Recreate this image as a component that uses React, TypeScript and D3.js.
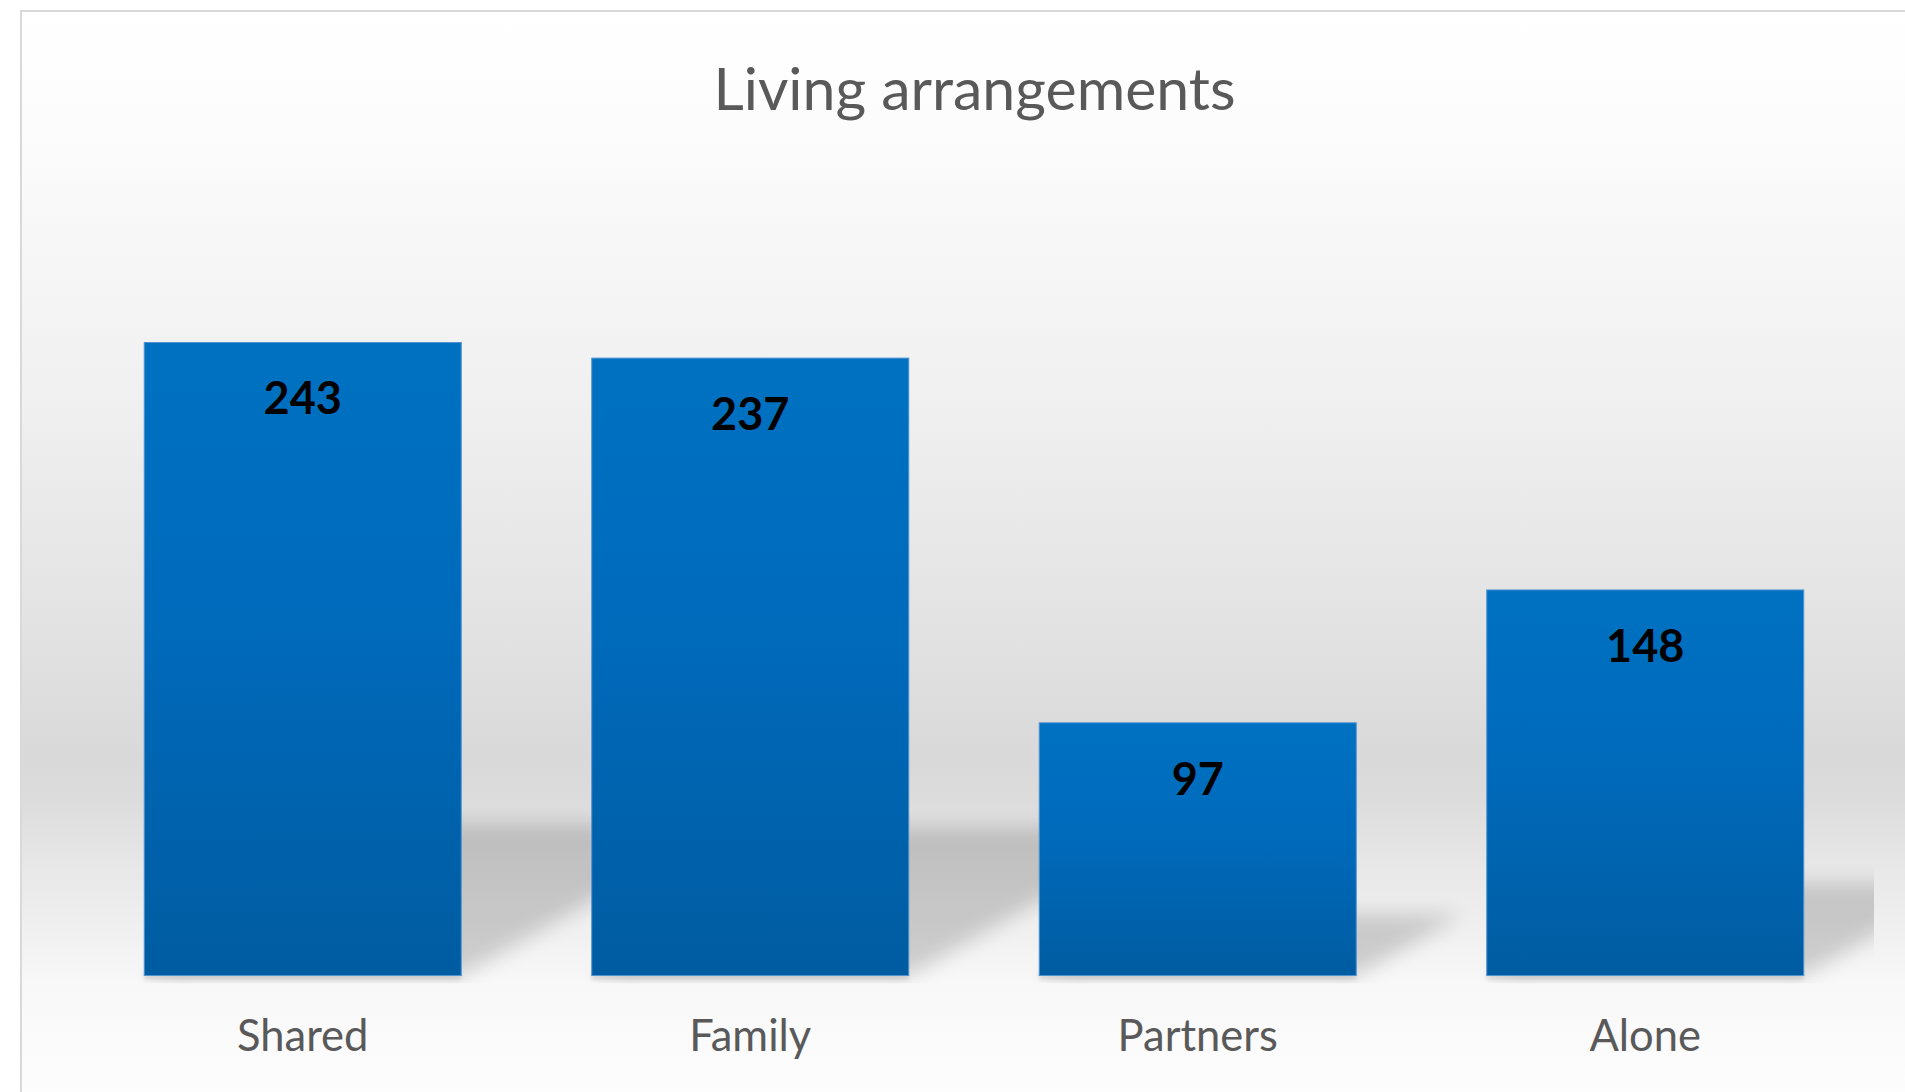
import React from "react";
import * as d3 from "d3";

const categories = ["Shared", "Family", "Partners", "Alone"];
const values = [243, 237, 97, 148];
const title = "Living arrangements";
const yDomainMax = 300;

const W = 1905;
const H = 1092;
const FONT = "Lato, 'Open Sans', sans-serif";

export default function App() {
  const baseY = 975.5;
  const x = d3
    .scaleBand<string>()
    .domain(categories)
    .range([79, 1869])
    .paddingInner(0.2916)
    .paddingOuter(0.1458);
  const y = d3.scaleLinear().domain([0, yDomainMax]).range([baseY, 194]);

  const s = 0.24; // shadow vertical scale
  const k = 0.42; // shadow skew

  const bgStops: [number, string][] = [
    [11, "#ffffff"],
    [130, "#fcfcfc"],
    [400, "#f0f0f0"],
    [620, "#e3e3e3"],
    [755, "#d9d9d9"],
    [800, "#dcdcdc"],
    [870, "#e8e8e8"],
    [940, "#f1f1f1"],
    [985, "#f8f8f8"],
    [1092, "#fdfdfd"],
  ];

  return (
    <svg
      width={W}
      height={H}
      style={{ position: "absolute", left: 0, top: 0, display: "block" }}
    >
      <defs>
        <linearGradient id="bg" gradientUnits="userSpaceOnUse" x1="0" y1="11" x2="0" y2="1092">
          {bgStops.map(([yy, c], i) => (
            <stop key={i} offset={(yy - 11) / (1092 - 11)} stopColor={c} />
          ))}
        </linearGradient>
        <linearGradient id="barGrad" x1="0" y1="0" x2="0" y2="1">
          <stop offset="0" stopColor="#0071c1" />
          <stop offset="0.45" stopColor="#006abb" />
          <stop offset="1" stopColor="#005ca1" />
        </linearGradient>
        <filter id="blur" x="-50%" y="-50%" width="200%" height="200%">
          <feGaussianBlur stdDeviation="10" />
        </filter>
        <filter id="blurSmall" x="-10%" y="-100%" width="120%" height="300%">
          <feGaussianBlur stdDeviation="2" />
        </filter>
        <clipPath id="plotClip">
          <rect x={79} y={150} width={1874 - 79} height={baseY + 8 - 150} />
        </clipPath>
      </defs>

      <rect x={0} y={0} width={W} height={H} fill="#ffffff" />
      <rect
        x={21}
        y={11}
        width={W + 40}
        height={H + 40}
        fill="url(#bg)"
        stroke="#d9d9d9"
        strokeWidth={2}
      />

      <text
        x={974.5}
        y={110}
        textAnchor="middle"
        fontFamily={FONT}
        fontSize={59}
        fill="#595959"
      >
        {title}
      </text>

      <g clipPath="url(#plotClip)">
        {categories.map((c, i) => {
          const x0 = x(c)!;
          const x1 = x0 + x.bandwidth();
          const h = baseY - y(values[i]);
          const pts = [
            [x0, baseY],
            [x1, baseY],
            [x1 + k * h, baseY - s * h],
            [x0 + k * h, baseY - s * h],
          ]
            .map((p) => p.join(","))
            .join(" ");
          return (
            <polygon key={c} points={pts} fill="#000" opacity={0.16} filter="url(#blur)" />
          );
        })}
        {categories.map((c) => (
          <rect
            key={c + "u"}
            x={x(c)!}
            y={baseY - 2}
            width={x.bandwidth()}
            height={6}
            fill="#000"
            opacity={0.12}
            filter="url(#blurSmall)"
          />
        ))}
      </g>

      {categories.map((c, i) => (
        <rect
          key={c + "b"}
          x={x(c)!}
          y={y(values[i])}
          width={x.bandwidth()}
          height={baseY - y(values[i])}
          fill="url(#barGrad)"
          stroke="#4f93d2"
          strokeWidth={1}
        />
      ))}

      {categories.map((c, i) => (
        <text
          key={c + "v"}
          x={x(c)! + x.bandwidth() / 2}
          y={y(values[i]) + 72}
          textAnchor="middle"
          fontFamily={FONT}
          fontWeight={700}
          fontSize={45}
          fill="#000000"
        >
          {values[i]}
        </text>
      ))}

      {categories.map((c) => (
        <text
          key={c + "l"}
          x={x(c)! + x.bandwidth() / 2}
          y={1051}
          textAnchor="middle"
          fontFamily={FONT}
          fontSize={43.5}
          fill="#595959"
        >
          {c}
        </text>
      ))}
    </svg>
  );
}
